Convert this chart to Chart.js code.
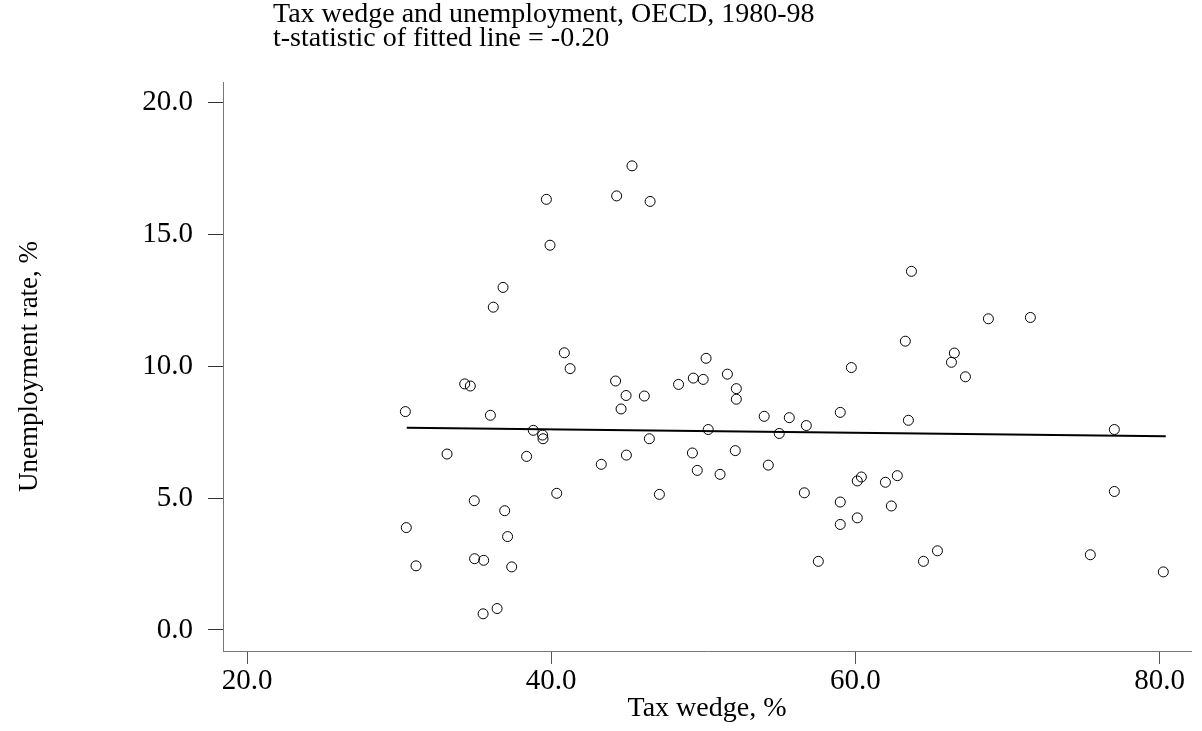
<!DOCTYPE html>
<html>
<head>
<meta charset="utf-8">
<script src="https://cdn.jsdelivr.net/npm/chart.js@4.4.1/dist/chart.umd.min.js"></script>
<style>
  html, body { margin: 0; padding: 0; background: #fff; }
</style>
</head>
<body>
<canvas id="c" width="1202" height="731"></canvas>
<script>
const titleLines = ['Tax wedge and unemployment, OECD, 1980-98', 't-statistic of fitted line = -0.20']
const xTitle = 'Tax wedge, %'
const yTitle = 'Unemployment rate, %'

// tax wedge (%) and unemployment rate (%) for each country-period
const taxWedge = [
  30.41, 30.47, 31.11, 33.15, 34.31, 34.68, 34.94, 34.96, 35.56, 35.52,
  36.00, 36.19, 36.44, 36.83, 36.94, 37.13, 37.40, 38.38, 38.82, 39.43,
  39.46, 39.68, 39.92, 40.36, 40.86, 41.24, 43.29, 44.23, 44.30, 44.59,
  44.92, 44.94, 45.31, 46.12, 46.45, 46.50, 47.11, 48.37, 49.28, 49.34,
  49.60, 49.99, 50.18, 50.32, 51.10, 51.58, 52.10, 52.17, 52.17, 54.00,
  54.27, 54.99, 55.65, 56.64, 56.77, 57.56, 59.00, 59.00, 59.00, 59.73,
  60.12, 60.12, 60.39, 61.97, 62.36, 62.75, 63.28, 63.48, 63.68, 64.47,
  65.39, 66.31, 66.50, 67.23, 68.74, 71.50, 75.44, 77.02, 77.02, 80.24
]
const unemployment = [
  8.28, 3.88, 2.43, 6.67, 9.33, 9.25, 4.90, 2.70, 2.64, 0.61,
  8.14, 12.24, 0.81, 12.99, 4.52, 3.54, 2.39, 6.58, 7.57, 7.39,
  7.25, 16.33, 14.59, 5.18, 10.51, 9.91, 6.28, 9.44, 16.46, 8.38,
  8.89, 6.63, 17.60, 8.87, 7.25, 16.25, 5.14, 9.31, 6.71, 9.55,
  6.05, 9.50, 10.30, 7.60, 5.90, 9.70, 6.80, 9.15, 8.75, 8.10,
  6.25, 7.45, 8.05, 5.20, 7.75, 2.60, 8.25, 4.85, 4.00, 9.95,
  4.25, 5.65, 5.80, 5.60, 4.70, 5.85, 10.95, 7.95, 13.60, 2.60,
  3.00, 10.15, 10.50, 9.60, 11.80, 11.85, 2.85, 7.60, 5.25, 2.20
]

// fitted line end points
const fitX = [30.5, 80.4]
const fitY = [7.67, 7.34]

const xTicks = [20, 40, 60, 80]
const yTicks = [0, 5, 10, 15, 20]

const serif = '"Liberation Serif", "DejaVu Serif", serif'

const titlePlugin = {
  id: 'titleLines',
  afterDraw(chart) {
    const ctx = chart.ctx
    ctx.save()
    ctx.fillStyle = '#000'
    ctx.font = '28px ' + serif
    ctx.textBaseline = 'alphabetic'
    titleLines.forEach((t, i) => ctx.fillText(t, 273, 22 + i * 24))
    ctx.restore()
  }
}

const points = taxWedge.map((x, i) => ({ x: x, y: unemployment[i] }))
const fitted = fitX.map((x, i) => ({ x: x, y: fitY[i] }))

new Chart(document.getElementById('c').getContext('2d'), {
  type: 'scatter',
  data: {
    datasets: [{
      data: points,
      pointStyle: 'circle',
      pointRadius: 5,
      borderWidth: 1,
      borderColor: '#000',
      backgroundColor: 'rgba(0,0,0,0)'
    }, {
      type: 'line',
      data: fitted,
      borderColor: '#000',
      borderWidth: 2,
      pointRadius: 0,
      fill: false
    }]
  },
  options: {
    responsive: false,
    animation: false,
    devicePixelRatio: 1,
    layout: { padding: { top: 82, right: 11, left: 0, bottom: 0 } },
    plugins: { legend: { display: false }, tooltip: { enabled: false } },
    scales: {
      x: {
        type: 'linear',
        min: 18.42,
        max: 82.06,
        afterBuildTicks: (scale) => { scale.ticks = xTicks.map(v => ({ value: v })) },
        afterFit: (scale) => { scale.height = 80 },
        border: { display: true, color: '#777', width: 1 },
        grid: { drawOnChartArea: false, drawTicks: true, tickLength: 13, color: '#555' },
        ticks: {
          color: '#000',
          padding: 0,
          maxRotation: 0,
          font: { family: serif, size: 29 },
          callback: (v) => Number(v).toFixed(1)
        },
        title: {
          display: true,
          text: xTitle,
          color: '#000',
          font: { family: serif, size: 28 },
          padding: { top: 0, bottom: 6 }
        }
      },
      y: {
        type: 'linear',
        min: -0.8,
        max: 20.78,
        afterBuildTicks: (scale) => { scale.ticks = yTicks.map(v => ({ value: v })) },
        afterFit: (scale) => { scale.width = 223 },
        border: { display: true, color: '#777', width: 1 },
        grid: { drawOnChartArea: false, drawTicks: true, tickLength: 15, color: '#333' },
        ticks: {
          color: '#000',
          padding: 15,
          font: { family: serif, size: 29 },
          callback: (v) => Number(v).toFixed(1)
        },
        title: {
          display: true,
          text: yTitle,
          color: '#000',
          font: { family: serif, size: 27 },
          padding: { top: 14, bottom: 0 }
        }
      }
    }
  },
  plugins: [titlePlugin]
})
</script>
</body>
</html>
